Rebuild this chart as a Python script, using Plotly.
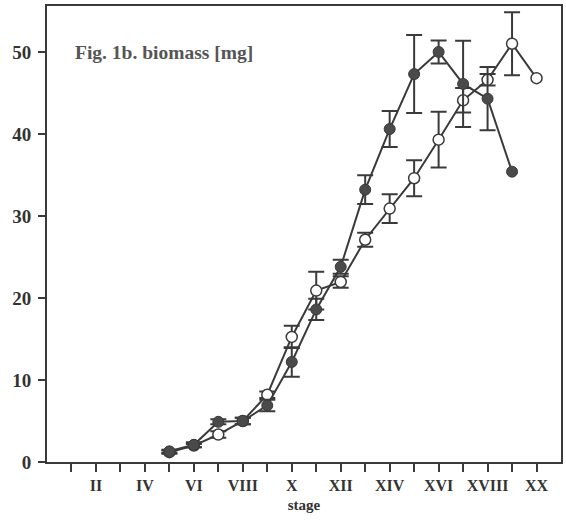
import plotly.graph_objects as go

# Data
stage_labels = ["I", "II", "III", "IV", "V", "VI", "VII", "VIII", "IX", "X",
                "XI", "XII", "XIII", "XIV", "XV", "XVI", "XVII", "XVIII", "XIX", "XX"]
stages_filled = [5, 6, 7, 8, 9, 10, 11, 12, 13, 14, 15, 16, 17, 18, 19]
biomass_filled = [1.3, 2.1, 4.9, 5.0, 6.9, 12.2, 18.6, 23.8, 33.2, 40.6, 47.3, 50.0, 46.1, 44.3, 35.4]
err_filled = [0.2, 0.3, 0.3, 0.4, 0.7, 1.8, 1.3, 0.85, 1.75, 2.2, 4.75, 1.4, 5.25, 3.85, None]

stages_open = [5, 6, 7, 8, 9, 10, 11, 12, 13, 14, 15, 16, 17, 18, 19, 20]
biomass_open = [1.2, 2.0, 3.35, 5.0, 8.2, 15.25, 20.9, 21.95, 27.1, 30.9, 34.6, 39.3, 44.1, 46.6, 51.0, 46.8]
err_open = [0.2, 0.2, 0.4, 0.4, 0.4, 1.35, 2.3, 0.7, 0.85, 1.75, 2.2, 3.4, 1.5, 0.7, 3.85, None]

y_ticks = [0, 10, 20, 30, 40, 50]

ink = "#3a3a3a"
font_family = "Liberation Serif, DejaVu Serif, serif"


def with_error(xs, ys, errs):
    keep = [i for i, e in enumerate(errs) if e is not None]
    return [xs[i] for i in keep], [ys[i] for i in keep], [errs[i] for i in keep]


fig = go.Figure()

series = [
    (stages_open, biomass_open, err_open,
     dict(symbol="circle", size=11, color="white", line=dict(color=ink, width=1.5))),
    (stages_filled, biomass_filled, err_filled,
     dict(symbol="circle", size=11, color="#4a4a4a", line=dict(color=ink, width=1))),
]

for xs, ys, errs, marker in series:
    ex, ey, ee = with_error(xs, ys, errs)
    # error bars (only where an error was shown)
    fig.add_trace(go.Scatter(
        x=ex, y=ey, mode="markers",
        marker=dict(size=1, opacity=0),
        error_y=dict(type="data", array=ee, visible=True, color=ink, thickness=2, width=8),
        showlegend=False, hoverinfo="skip", cliponaxis=False,
    ))
    fig.add_trace(go.Scatter(
        x=xs, y=ys, mode="lines+markers",
        line=dict(color=ink, width=2), marker=marker,
        showlegend=False, cliponaxis=False,
    ))

tickvals = list(range(1, len(stage_labels) + 1))
ticktext = [lab if (i % 2 == 0) else "" for i, lab in zip(tickvals, stage_labels)]

fig.update_layout(
    width=566, height=523,
    margin=dict(l=47, r=3, t=6, b=61),
    paper_bgcolor="white", plot_bgcolor="white",
    font=dict(family=font_family, size=15, color="#333"),
    xaxis=dict(
        range=[0, 21], tickvals=tickvals, ticktext=ticktext,
        ticks="outside", ticklen=8, tickwidth=1.5, tickcolor=ink,
        showline=True, linecolor=ink, linewidth=2, mirror=True,
        showgrid=False, zeroline=False,
        tickfont=dict(family=font_family, size=16, color="#333", weight="bold"),
        title=dict(text="<b>stage</b>", font=dict(family=font_family, size=15, color="#333"), standoff=6),
    ),
    yaxis=dict(
        range=[0, 55.6], tickvals=y_ticks,
        ticks="outside", ticklen=7, tickwidth=1.5, tickcolor=ink,
        showline=True, linecolor=ink, linewidth=2, mirror=True,
        showgrid=False, zeroline=False, ticklabelstandoff=3,
        tickfont=dict(family=font_family, size=19, color="#333", weight="bold"),
    ),
    annotations=[dict(
        text="<b>Fig. 1b. biomass [mg]</b>", xref="paper", yref="paper",
        x=0.05, y=0.897, xanchor="left", yanchor="middle", showarrow=False,
        font=dict(family=font_family, size=19.5, color="#555"),
    )],
)

fig.write_html("out.html", config={"displayModeBar": False},
               post_script="document.body.style.margin='0px';")
